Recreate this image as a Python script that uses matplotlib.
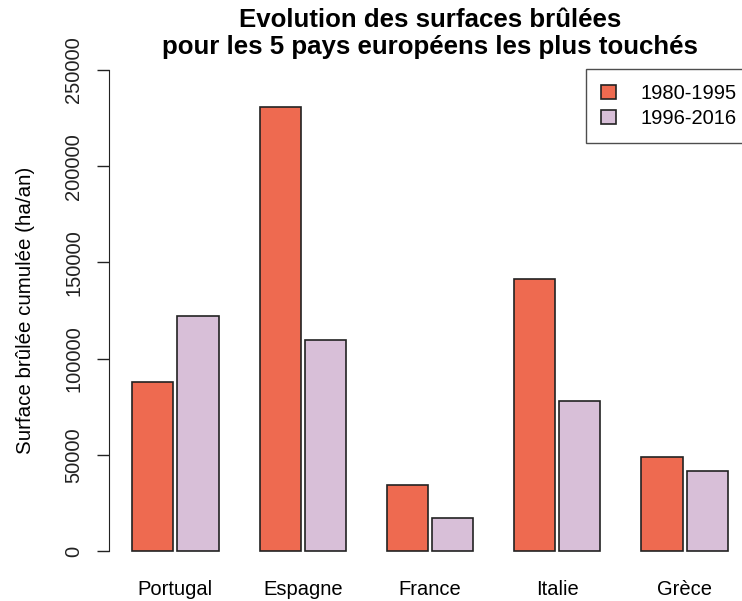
import matplotlib
matplotlib.use('Agg')
import matplotlib.pyplot as plt
import numpy as np

plt.rcParams['font.family'] = ['Liberation Sans', 'DejaVu Sans']

# data
pays = ['Portugal', 'Espagne', 'France', 'Italie', 'Grèce']
periodes = ['1980-1995', '1996-2016']
surf_1980_1995 = [88000, 230600, 34100, 141200, 48900]
surf_1996_2016 = [122100, 109700, 17000, 77800, 41600]
yticks = [0, 50000, 100000, 150000, 200000, 250000]

col_a = '#EE6A50'   # coral2
col_b = '#D8BFD8'   # thistle

fig = plt.figure(figsize=(7.42, 6.01), dpi=100, facecolor='white')
ax = fig.add_axes([108.5/742, 30.8/601, (751.5-108.5)/742, 519.4/601])

# R barplot(beside=TRUE) layout: width 1, space 0.1 inside a group, 1 between groups
grp = np.arange(len(pays))*3.1 + 1
ax.bar(grp, surf_1980_1995, width=1, align='edge', color=col_a,
       edgecolor='#222222', linewidth=1.2, label=periodes[0])
ax.bar(grp+1.1, surf_1996_2016, width=1, align='edge', color=col_b,
       edgecolor='#222222', linewidth=1.2, label=periodes[1])

ax.set_xlim(0.42, 16.08)
ax.set_ylim(-10000, 260000)

for s in ['top', 'right', 'bottom']:
    ax.spines[s].set_visible(False)
ax.spines['left'].set_bounds(0, 250000)
ax.spines['left'].set_color('#222222')

ax.set_yticks(yticks)
ax.set_yticklabels([str(v) for v in yticks], rotation=90, va='center', fontsize=14.5)
ax.tick_params(axis='y', length=9, width=1, pad=9, colors='#222222')

ax.set_xticks(grp+1.05)
ax.set_xticklabels(pays, fontsize=14.5)
ax.tick_params(axis='x', length=0, pad=7)

ax.set_ylabel('Surface brûlée cumulée (ha/an)', fontsize=14.8, labelpad=21)

fig.text(430/742, 1-8/601, 'Evolution des surfaces brûlées\npour les 5 pays européens les plus touchés',
         ha='center', va='top', fontsize=18.6, fontweight='bold', linespacing=1.17)

leg = ax.legend(loc='upper right', bbox_to_anchor=(1.0, 0.965), fontsize=14.5,
                frameon=True, fancybox=False, edgecolor='#222222',
                handlelength=0.75, handleheight=0.75, handletextpad=1.2,
                borderpad=0.75, labelspacing=0.3, borderaxespad=0)
leg.get_frame().set_linewidth(1)

fig.savefig('out.png', dpi=100)
